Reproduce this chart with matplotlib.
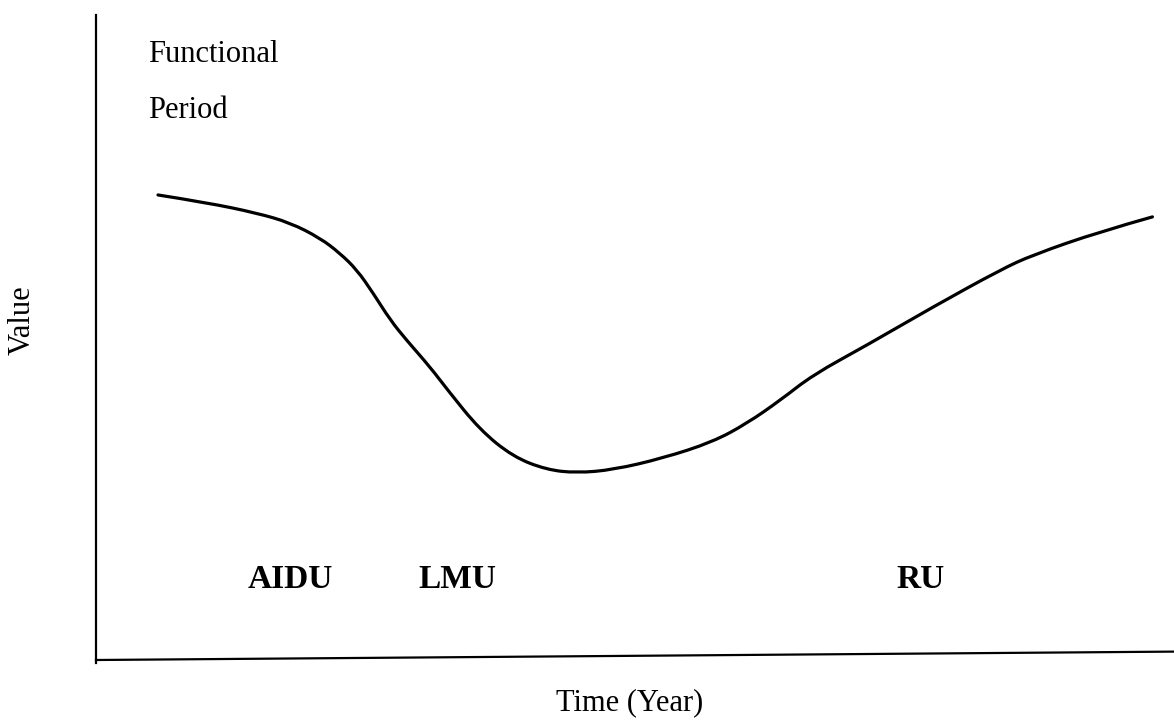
import numpy as np
import matplotlib
matplotlib.use('Agg')
import matplotlib.pyplot as plt
from matplotlib.lines import Line2D
from matplotlib.path import Path
from matplotlib.patches import PathPatch

# functional value over time (arbitrary units)
time = [5.75, 10.3, 14.9, 18.0, 20.8, 22.6, 24.2, 25.7, 27.3, 28.8, 31.0, 32.6,
        35.6, 38.7, 41.8, 44.6, 48.0, 52.6, 57.2, 60.4, 63.5, 66.5, 71.5, 77.6,
        83.9, 86.9, 93.1, 98.0]
value = [72.1, 70.9, 69.3, 67.8, 65.4, 63.1, 60.5, 56.9, 52.7, 49.6, 45.4, 41.9,
         35.7, 31.5, 29.5, 29.0, 29.5, 31.3, 33.8, 36.7, 40.3, 44.2, 48.8, 54.7,
         60.5, 62.8, 66.4, 68.7]

# phase labels
phases = ['AIDU', 'LMU', 'RU']
phase_x = [18.0, 33.5, 76.5]
phase_y = 12.5

plt.rcParams['font.family'] = ['Liberation Serif', 'DejaVu Serif']

fig = plt.figure(figsize=(11.74, 7.22), dpi=100)
ax = fig.add_axes([96/1174, 62/722, 1 - 96/1174, 645/722])
ax.set_xlim(0, 100)
ax.set_ylim(0, 100)
for s in ax.spines.values():
    s.set_visible(False)
ax.set_xticks([])
ax.set_yticks([])

# smooth curve: quadratic bezier pieces using the points as control points
pts = np.column_stack([time, value])
verts = [pts[0]]
codes = [Path.MOVETO]
for i in range(1, len(pts) - 1):
    end = pts[i + 1] if i == len(pts) - 2 else (pts[i] + pts[i + 1]) / 2
    verts += [pts[i], end]
    codes += [Path.CURVE3, Path.CURVE3]
ax.add_patch(PathPatch(Path(verts, codes), fill=False, edgecolor='k',
                       lw=2.3, capstyle='round'))

for name, px in zip(phases, phase_x):
    ax.text(px, phase_y, name, fontsize=24, fontweight='bold',
            ha='center', va='center')

# hand drawn axes (bottom one slightly tilted)
ax.add_line(Line2D([0, 0], [-0.5, 100], color='k', lw=1.6, clip_on=False))
ax.add_line(Line2D([0, 100], [0, 1.3], color='k', lw=1.6, clip_on=False))

fig.text(148/1174, 1 - 55/722, 'Functional', fontsize=22, ha='left', va='center')
fig.text(148/1174, 1 - 110/722, 'Period', fontsize=22, ha='left', va='center')
fig.text(22/1174, 1 - 320/722, 'Value', fontsize=22, rotation=90,
         ha='center', va='center')
fig.text(630/1174, 1 - 703/722, 'Time (Year)', fontsize=22,
         ha='center', va='center')

fig.savefig('out.png', dpi=100)
